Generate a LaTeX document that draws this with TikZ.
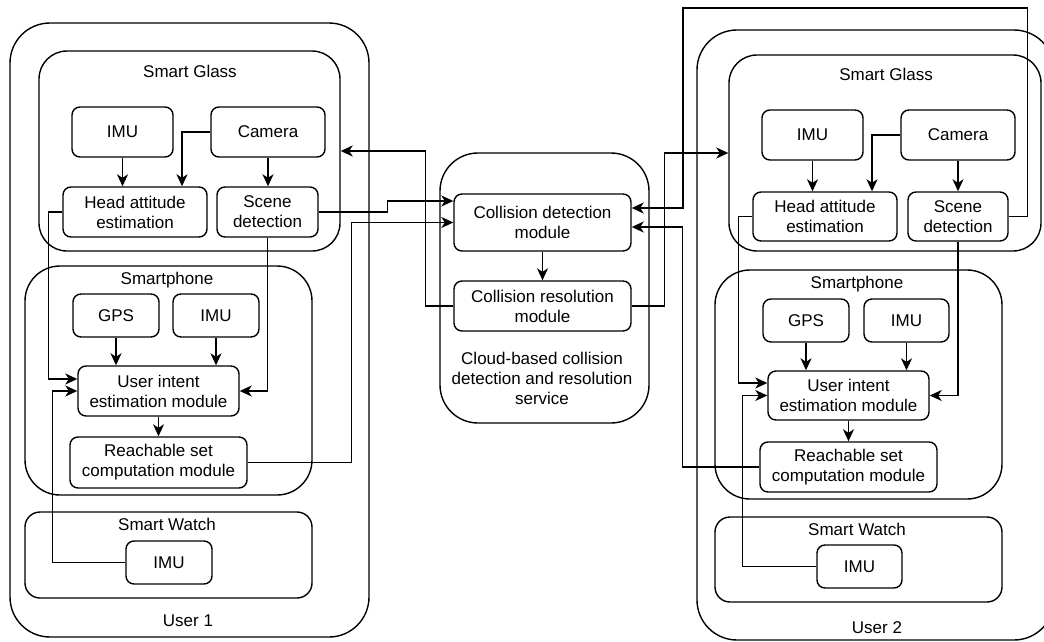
\documentclass[tikz,border=0pt]{standalone}
\usepackage{fontspec}
\setmainfont{Liberation Sans}
\usetikzlibrary{arrows.meta}
\begin{document}
\begin{tikzpicture}[x=1pt,y=-1pt,
  every node/.style={font=\fontsize{17}{20}\selectfont},
  box/.style={draw, line width=1.4pt, rounded corners=8pt, fill=white, align=center, inner sep=0pt},
  cont/.style={draw, line width=1.4pt, inner sep=0pt},
  lbl/.style={inner sep=0pt, align=center},
  arr/.style={line width=1.4pt, -{Stealth[length=12pt,width=11pt,inset=3.5pt]}}]
\useasboundingbox (0,0) rectangle (1044,642);
\clip (0,0) rectangle (1044,642);

% ---------- containers ----------
\node[cont, rounded corners=40pt, minimum width=359pt, minimum height=614pt] (U1) at (189.5,330) {};
\node[cont, rounded corners=28pt, minimum width=301pt, minimum height=200pt] (SG1) at (189.5,151) {};
\node[cont, rounded corners=35pt, minimum width=287pt, minimum height=229pt] (SP1) at (168.5,380.5) {};
\node[cont, rounded corners=15pt, minimum width=287pt, minimum height=86pt] (SW1) at (168.5,555) {};

\node[cont, rounded corners=38pt, minimum width=209pt, minimum height=270pt] (CL) at (544.5,288) {};

\node[cont, rounded corners=40pt, minimum width=357pt, minimum height=610pt] (U2) at (875.5,335) {};
\node[cont, rounded corners=28pt, minimum width=312pt, minimum height=196pt] (SG2) at (885,153) {};
\node[cont, rounded corners=35pt, minimum width=287pt, minimum height=229pt] (SP2) at (858.5,384.5) {};
\node[cont, rounded corners=15pt, minimum width=287pt, minimum height=85pt] (SW2) at (858.5,559.5) {};

% ---------- container labels ----------
\node[lbl] (sg1l) at (190,71) {Smart Glass};
\node[lbl] (sp1l) at (167,280) {Smartphone};
\node[lbl] (sw1l) at (167,524) {Smart Watch};
\node[lbl] (u1l) at (188,621) {User 1};
\node[lbl] (cll) at (542,378) {Cloud-based collision\\detection and resolution\\service};
\node[lbl] (sg2l) at (886,74) {Smart Glass};
\node[lbl] (sp2l) at (857,284) {Smartphone};
\node[lbl] (sw2l) at (857,529) {Smart Watch};
\node[lbl] (u2l) at (877,628) {User 2};

% ---------- User 1 boxes ----------
\node[box, minimum width=101pt, minimum height=50pt] (IMU1g) at (122.5,132) {IMU};
\node[box, minimum width=114pt, minimum height=50pt] (Cam1) at (268,132) {Camera};
\node[box, minimum width=144pt, minimum height=50pt] (HA1) at (135,212) {Head attitude\\estimation};
\node[box, minimum width=101pt, minimum height=50pt] (SD1) at (267.5,212) {Scene\\detection};
\node[box, minimum width=86pt, minimum height=43pt] (GPS1) at (116,315.5) {GPS};
\node[box, minimum width=86pt, minimum height=43pt] (IMU1p) at (216,315.5) {IMU};
\node[box, minimum width=161pt, minimum height=50pt] (UI1) at (158.5,391) {User intent\\estimation module};
\node[box, minimum width=177pt, minimum height=51pt] (RS1) at (158.5,462.5) {Reachable set\\computation module};
\node[box, minimum width=86pt, minimum height=43pt] (IMU1w) at (169,562.5) {IMU};

% ---------- Cloud boxes ----------
\node[box, minimum width=177pt, minimum height=57pt] (CD) at (542.5,222.5) {Collision detection\\module};
\node[box, minimum width=177pt, minimum height=50pt] (CR) at (542.5,306) {Collision resolution\\module};

% ---------- User 2 boxes ----------
\node[box, minimum width=101pt, minimum height=50pt] (IMU2g) at (812.5,135) {IMU};
\node[box, minimum width=114pt, minimum height=50pt] (Cam2) at (958,135) {Camera};
\node[box, minimum width=144pt, minimum height=49pt] (HA2) at (825,216.5) {Head attitude\\estimation};
\node[box, minimum width=100pt, minimum height=49pt] (SD2) at (958,216.5) {Scene\\detection};
\node[box, minimum width=86pt, minimum height=43pt] (GPS2) at (806,320.5) {GPS};
\node[box, minimum width=85pt, minimum height=43pt] (IMU2p) at (906.5,320.5) {IMU};
\node[box, minimum width=161pt, minimum height=49pt] (UI2) at (848.5,395.5) {User intent\\estimation module};
\node[box, minimum width=177pt, minimum height=50pt] (RS2) at (848.5,467) {Reachable set\\computation module};
\node[box, minimum width=85pt, minimum height=43pt] (IMU2w) at (859.5,566.5) {IMU};

% ---------- User 1 connectors ----------
\draw[arr] (IMU1g.south) -- (IMU1g.south |- HA1.north);
\draw[arr] (Cam1.west) -| ([xshift=47pt]HA1.north);
\draw[arr] (Cam1.south) -- (Cam1.south |- SD1.north);
\draw[arr] (GPS1.south) -- (GPS1.south |- UI1.north);
\draw[arr] (IMU1p.south) -- (IMU1p.south |- UI1.north);
\draw[arr] (UI1.south) -- (RS1.north);
\draw[arr] (HA1.west) -- ++(-14,0) |- ([yshift=12pt]UI1.west);
\draw[arr] (IMU1w.west) -- ++(-73,0) |- (UI1.west);
\draw[arr] (SD1.south) |- (UI1.east);

% ---------- cross connectors ----------
\draw[arr] (SD1.east) -- ++(69,0) |- ([yshift=21.5pt]CD.west);
\draw[arr] (RS1.east) -- ++(104,0) |- (CD.west);
\draw[arr] (CD.south) -- (CR.north);
\draw[arr] (CR.west) -- ++(-28,0) |- (SG1.east);
\draw[arr] (CR.east) -- ++(33,0) |- (SG2.west);
\draw[arr] (SD2.east) -- ++(19,0) |- (683,8) |- ([yshift=14.5pt]CD.east);
\draw[arr] (RS2.west) -- ++(-77,0) |- ([yshift=-4.5pt]CD.east);

% ---------- User 2 connectors ----------
\draw[arr] (IMU2g.south) -- (IMU2g.south |- HA2.north);
\draw[arr] (Cam2.west) -| ([xshift=47pt]HA2.north);
\draw[arr] (Cam2.south) -- (Cam2.south |- SD2.north);
\draw[arr] (GPS2.south) -- (GPS2.south |- UI2.north);
\draw[arr] (IMU2p.south) -- (IMU2p.south |- UI2.north);
\draw[arr] (UI2.south) -- (RS2.north);
\draw[arr] (HA2.west) -- ++(-14,0) |- ([yshift=12.5pt]UI2.west);
\draw[arr] (IMU2w.west) -- ++(-74,0) |- (UI2.west);
\draw[arr] (SD2.south) |- (UI2.east);
\end{tikzpicture}
\end{document}
